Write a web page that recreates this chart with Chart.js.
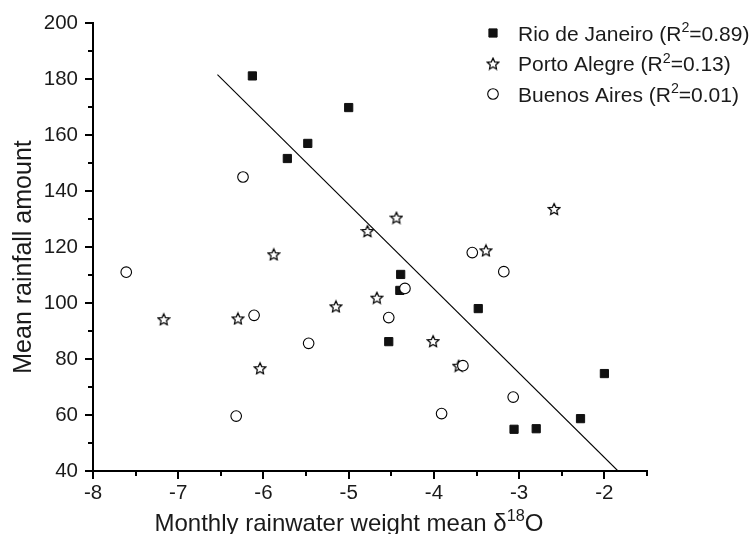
<!DOCTYPE html>
<html>
<head>
<meta charset="utf-8">
<script src="https://cdn.jsdelivr.net/npm/chart.js@4"></script>
<style>
  body { margin: 0; background: #fff; }
  #wrap { width: 755px; height: 534px; }
</style>
</head>
<body>
<div id="wrap"><canvas id="rainChart" width="755" height="534"></canvas></div>
<script>
// values
let rioX = [-6.13, -5.00, -5.48, -5.72, -4.39, -4.40, -3.48, -4.53, -2.00, -2.28, -3.06, -2.80];
let rioY = [181.1, 169.8, 157.0, 151.6, 110.2, 104.5, 98.0, 86.2, 74.8, 58.7, 54.9, 55.1];

let portoX = [-7.17, -6.30, -6.04, -5.88, -5.15, -4.78, -4.67, -4.44, -4.01, -3.71, -3.39, -2.59];
let portoY = [94.2, 94.5, 76.7, 117.4, 98.8, 125.7, 101.9, 130.5, 86.4, 77.6, 118.8, 133.6];

let buenosX = [-7.61, -6.24, -6.11, -6.32, -5.47, -4.53, -4.34, -3.91, -3.66, -3.55, -3.18, -3.07];
let buenosY = [111.0, 145.0, 95.6, 59.6, 85.6, 94.8, 105.2, 60.5, 77.6, 118.0, 111.2, 66.4];

// regression line for Rio de Janeiro
let fitX = [-6.54, -1.84];
let fitY = [181.6, 40];

let seriesNames = ['Rio de Janeiro', 'Porto Alegre', 'Buenos Aires'];
let rSquared = ['0.89', '0.13', '0.01'];

let xMin = -8, xMax = -1.5, xStep = 1, xMinor = 0.5;
let yMin = 40, yMax = 200, yStep = 20, yMinor = 10;

const FONT = "'Liberation Sans', Arial, sans-serif";
const INK = '#1a1a1a';

function toPoints(xs, ys) {
  return xs.map((x, i) => ({ x: x, y: ys[i] }));
}

// hollow five point star used as point style
function makeStar(size) {
  let c = document.createElement('canvas');
  c.width = size; c.height = size;
  let g = c.getContext('2d');
  let cx = size / 2, cy = size / 2 + 0.6;
  let outer = size / 2 - 1, inner = outer * 0.47;
  g.beginPath();
  for (let i = 0; i < 10; i++) {
    let r = i % 2 == 0 ? outer : inner;
    let a = -Math.PI / 2 + i * Math.PI / 5;
    let px = cx + r * Math.cos(a), py = cy + r * Math.sin(a);
    if (i == 0) g.moveTo(px, py); else g.lineTo(px, py);
  }
  g.closePath();
  g.fillStyle = '#fff';
  g.fill();
  g.lineWidth = 1.2;
  g.strokeStyle = '#000';
  g.stroke();
  return c;
}
let star = makeStar(14);

// draws text with superscript pieces, parts = [[text, isSup], ...]
function drawRich(ctx, parts, x, y, size, align) {
  let widths = parts.map(p => {
    ctx.font = (p[1] ? size * 0.68 : size) + 'px ' + FONT;
    return ctx.measureText(p[0]).width;
  });
  let total = widths.reduce((a, b) => a + b, 0);
  let cx = align == 'center' ? x - total / 2 : x;
  ctx.textAlign = 'left';
  ctx.textBaseline = 'alphabetic';
  parts.forEach((p, i) => {
    ctx.font = (p[1] ? size * 0.68 : size) + 'px ' + FONT;
    ctx.fillText(p[0], cx, p[1] ? y - size * 0.4 : y);
    cx += widths[i];
  });
}

const extras = {
  id: 'extras',
  afterDraw(chart) {
    let ctx = chart.ctx;
    let xs = chart.scales.x, ys = chart.scales.y;
    ctx.save();
    ctx.strokeStyle = '#000';
    ctx.lineWidth = 2;
    // minor ticks
    ctx.beginPath();
    for (let v = xMin; v <= xMax + 1e-9; v += xMinor) {
      if (Math.abs(v / xStep - Math.round(v / xStep)) < 1e-6) continue;
      let px = Math.round(xs.getPixelForValue(v));
      ctx.moveTo(px, ys.bottom);
      ctx.lineTo(px, ys.bottom + 5);
    }
    for (let v = yMin; v <= yMax + 1e-9; v += yMinor) {
      if (v % yStep == 0) continue;
      let py = Math.round(ys.getPixelForValue(v));
      ctx.moveTo(xs.left, py);
      ctx.lineTo(xs.left - 5, py);
    }
    ctx.stroke();

    ctx.fillStyle = INK;
    // x axis title
    drawRich(ctx, [['Monthly rainwater weight mean \u03b4', false], ['18', true], ['O', false]], 349, 531, 24, 'center');

    // y axis title
    ctx.save();
    ctx.translate(31, 257);
    ctx.rotate(-Math.PI / 2);
    ctx.font = '25px ' + FONT;
    ctx.textAlign = 'center';
    ctx.textBaseline = 'alphabetic';
    ctx.fillText('Mean rainfall amount', 0, 0);
    ctx.restore();

    // legend
    let rowY = [33, 63.5, 94];
    seriesNames.forEach((name, i) => {
      let ds = chart.data.datasets[i];
      ctx.lineWidth = ds.borderWidth;
      ctx.strokeStyle = ds.borderColor;
      ctx.fillStyle = ds.backgroundColor;
      Chart.helpers.drawPoint(ctx, {
        pointStyle: ds.pointStyle,
        radius: ds.pointRadius,
        rotation: 0,
        borderWidth: ds.borderWidth
      }, 493, rowY[i]);
      ctx.fillStyle = INK;
      drawRich(ctx, [[name + ' (R', false], ['2', true], ['=' + rSquared[i] + ')', false]], 518, rowY[i] + 7.5, 21, 'left');
    });
    ctx.restore();
  }
};

let rainChart = new Chart(document.getElementById('rainChart'), {
  type: 'scatter',
  data: {
    datasets: [{
      label: seriesNames[0],
      data: toPoints(rioX, rioY),
      pointStyle: 'rect',
      pointRadius: 5.8,
      backgroundColor: '#111',
      borderColor: '#111',
      borderWidth: 1,
      order: 2
    }, {
      label: seriesNames[1],
      data: toPoints(portoX, portoY),
      pointStyle: star,
      pointRadius: 6,
      backgroundColor: '#fff',
      borderColor: '#000',
      borderWidth: 1,
      order: 1
    }, {
      label: seriesNames[2],
      data: toPoints(buenosX, buenosY),
      pointStyle: 'circle',
      pointRadius: 5.3,
      backgroundColor: '#fff',
      borderColor: '#000',
      borderWidth: 1.1,
      order: 0
    }, {
      type: 'line',
      label: 'fit',
      data: toPoints(fitX, fitY),
      showLine: true,
      borderColor: '#000',
      borderWidth: 1.1,
      pointRadius: 0,
      fill: false,
      order: 3
    }]
  },
  options: {
    responsive: false,
    animation: false,
    layout: { padding: { top: 23, right: 108, left: 0, bottom: 0 } },
    plugins: {
      legend: { display: false },
      tooltip: { enabled: false }
    },
    scales: {
      x: {
        type: 'linear',
        min: xMin,
        max: xMax,
        afterFit: (axis) => { axis.height = 63; },
        ticks: {
          stepSize: xStep,
          includeBounds: false,
          color: INK,
          padding: 2,
          font: { family: FONT, size: 20.5 }
        },
        grid: { drawOnChartArea: false, drawTicks: true, tickLength: 8, color: '#000', lineWidth: 2 },
        border: { display: true, color: '#000', width: 2 }
      },
      y: {
        min: yMin,
        max: yMax,
        afterFit: (axis) => { axis.width = 93; },
        ticks: {
          stepSize: yStep,
          color: INK,
          padding: 7,
          font: { family: FONT, size: 20.5 }
        },
        grid: { drawOnChartArea: false, drawTicks: true, tickLength: 8, color: '#000', lineWidth: 2 },
        border: { display: true, color: '#000', width: 2 }
      }
    }
  },
  plugins: [extras]
});
</script>
</body>
</html>
